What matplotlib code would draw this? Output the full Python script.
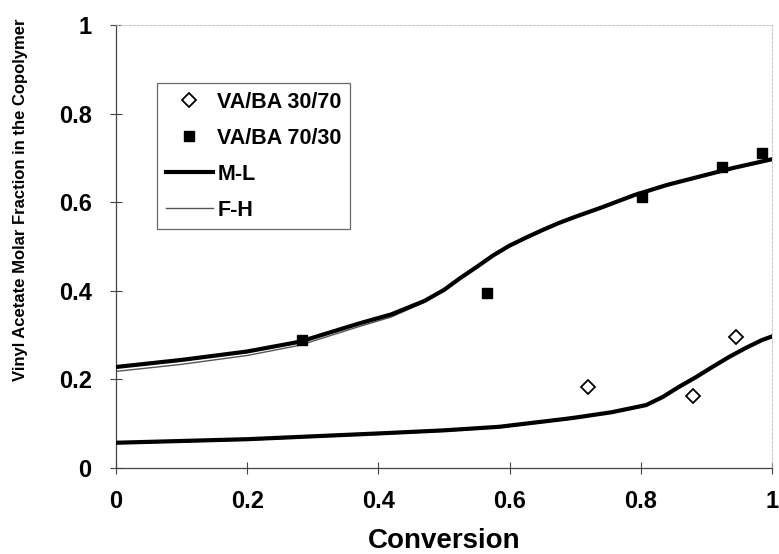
import matplotlib
matplotlib.use("Agg")
import matplotlib.pyplot as plt

plt.rcParams['font.family'] = ['Liberation Sans', 'DejaVu Sans']
plt.rcParams['font.weight'] = 'bold'

# Experimental data
va_ba_30_70_x = [0.720, 0.880, 0.945]
va_ba_30_70_y = [0.183, 0.163, 0.296]
va_ba_70_30_x = [0.283, 0.565, 0.802, 0.924, 0.985]
va_ba_70_30_y = [0.289, 0.396, 0.612, 0.679, 0.711]

# Model curves, 70/30 feed
ml_70_x = [0, 0.1, 0.2, 0.28, 0.37, 0.42, 0.47, 0.50, 0.525, 0.55, 0.575, 0.60, 0.625,
           0.65, 0.675, 0.70, 0.74, 0.79, 0.84, 0.89, 0.94, 1.0]
ml_70_y = [0.228, 0.244, 0.263, 0.285, 0.326, 0.347, 0.377, 0.402, 0.429, 0.454, 0.480,
           0.502, 0.520, 0.537, 0.553, 0.567, 0.588, 0.616, 0.639, 0.658, 0.677, 0.697]
fh_70_x = ml_70_x
fh_70_y = [0.218, 0.234, 0.254, 0.277, 0.319, 0.341, 0.374, 0.401, 0.429, 0.454, 0.480,
           0.502, 0.520, 0.537, 0.553, 0.567, 0.588, 0.616, 0.639, 0.658, 0.677, 0.697]

# Model curves, 30/70 feed
ml_30_x = [0, 0.2, 0.4, 0.5, 0.584, 0.635, 0.686, 0.706, 0.756, 0.808, 0.833, 0.858,
           0.884, 0.909, 0.935, 0.960, 0.985, 1.0]
ml_30_y = [0.057, 0.065, 0.078, 0.085, 0.093, 0.102, 0.111, 0.115, 0.126, 0.142, 0.160,
           0.183, 0.205, 0.228, 0.251, 0.271, 0.289, 0.297]
fh_30_x = ml_30_x
fh_30_y = [0.055, 0.063, 0.076, 0.083, 0.091, 0.100, 0.110, 0.114, 0.125, 0.141, 0.159,
           0.182, 0.204, 0.227, 0.250, 0.270, 0.288, 0.296]

xticks = [0, 0.2, 0.4, 0.6, 0.8, 1]
xticklabels = ['0', '0.2', '0.4', '0.6', '0.8', '1']
yticks = [0, 0.2, 0.4, 0.6, 0.8, 1]
yticklabels = ['0', '0.2', '0.4', '0.6', '0.8', '1']

fig = plt.figure(figsize=(7.79, 5.54), dpi=100)
ax = fig.add_axes([116/779, 1 - 468/554, (772 - 116)/779, (468 - 25)/554])

ax.plot(va_ba_30_70_x, va_ba_30_70_y, linestyle='none', marker='D', markersize=7,
        markerfacecolor='white', markeredgecolor='black', markeredgewidth=1.3,
        label='VA/BA 30/70', zorder=5)
ax.plot(va_ba_70_30_x, va_ba_70_30_y, linestyle='none', marker='s', markersize=7.5,
        color='black', label='VA/BA 70/30', zorder=5)
ax.plot(ml_70_x, ml_70_y, color='black', lw=3.0, label='M-L', zorder=3,
        solid_joinstyle='round')
ax.plot(ml_30_x, ml_30_y, color='black', lw=3.0, zorder=3, solid_joinstyle='round')
ax.plot(fh_70_x, fh_70_y, color='#555555', lw=1.0, label='F-H', zorder=2)
ax.plot(fh_30_x, fh_30_y, color='#555555', lw=1.0, zorder=2)

ax.set_xlim(0, 1)
ax.set_ylim(0, 1)
ax.set_xticks(xticks)
ax.set_xticklabels(xticklabels)
ax.set_yticks(yticks)
ax.set_yticklabels(yticklabels)
ax.tick_params(axis='both', direction='inout', length=9, width=0.8, color='#444444',
               labelsize=17)
ax.tick_params(axis='y', pad=13)
ax.tick_params(axis='x', pad=11)
for lab in ax.get_xticklabels() + ax.get_yticklabels():
    lab.set_fontweight('bold')

for side in ['left', 'bottom']:
    ax.spines[side].set_color('#444444')
    ax.spines[side].set_linewidth(0.9)
for side in ['top', 'right']:
    ax.spines[side].set_color('#bbbbbb')
    ax.spines[side].set_linewidth(0.6)
    ax.spines[side].set_linestyle((0, (3, 2)))

ax.set_xlabel('Conversion', fontsize=20, fontweight='bold', labelpad=11)
ax.set_ylabel('Vinyl Acetate Molar Fraction in the Copolymer', fontsize=12,
              fontweight='bold', labelpad=22)
ax.yaxis.label.set_y(0.605)

leg = ax.legend(loc='upper left', bbox_to_anchor=(157/779, 1 - 83/554),
                bbox_transform=fig.transFigure, borderaxespad=0,
                prop={'size': 15.5, 'weight': 'bold'}, handlelength=2.2,
                handletextpad=0.2, labelspacing=0.7, borderpad=0.4,
                fancybox=False, frameon=True)
leg.get_frame().set_edgecolor('#444444')
leg.get_frame().set_linewidth(0.9)

fig.savefig('out.png', dpi=100)
